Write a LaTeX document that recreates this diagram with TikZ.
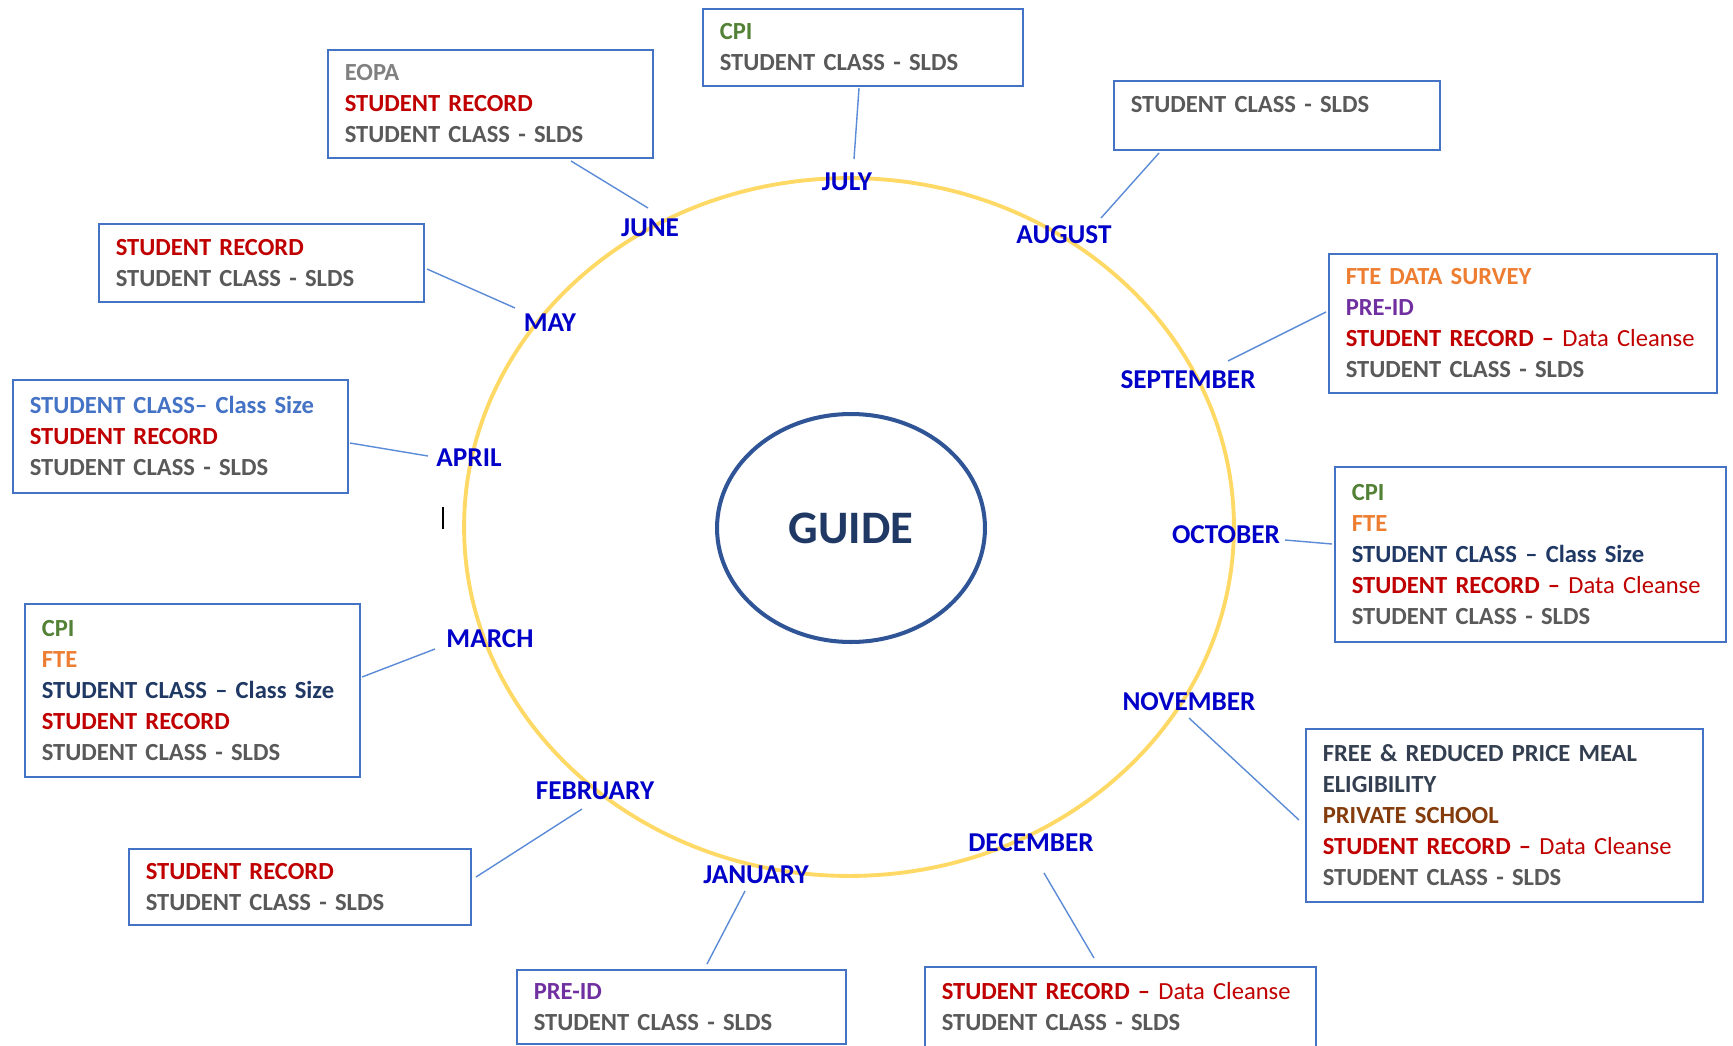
\documentclass[tikz,border=0pt]{standalone}
\usepackage{fontspec}
\setmainfont{Carlito}
\usetikzlibrary{shapes.geometric}
\definecolor{boxblue}{HTML}{4472C4}
\definecolor{linkblue}{HTML}{5B8BD6}
\definecolor{ringyellow}{HTML}{FFD966}
\definecolor{monthblue}{HTML}{0000C8}
\definecolor{guideline}{HTML}{2F5597}
\definecolor{guidetext}{HTML}{1F3864}
\definecolor{cpigreen}{HTML}{538135}
\definecolor{fteorange}{HTML}{ED7D31}
\definecolor{preidpurple}{HTML}{7030A0}
\definecolor{recred}{HTML}{C00000}
\definecolor{sldsgray}{HTML}{595959}
\definecolor{eopagray}{HTML}{808080}
\definecolor{navy}{HTML}{1F3864}
\definecolor{lightblue}{HTML}{4472C4}
\definecolor{slate}{HTML}{333F50}
\definecolor{brown}{HTML}{843C0C}
\newcommand{\cpi}{\textcolor{cpigreen}{CPI}}
\newcommand{\fte}{\textcolor{fteorange}{FTE}}
\newcommand{\preid}{\textcolor{preidpurple}{PRE-ID}}
\newcommand{\srec}{\textcolor{recred}{STUDENT RECORD}}
\newcommand{\srecdc}{\textcolor{recred}{STUDENT RECORD -- \mdseries Data Cleanse}}
\newcommand{\slds}{\textcolor{sldsgray}{STUDENT CLASS - SLDS}}
\newcommand{\csize}{\textcolor{navy}{STUDENT CLASS -- Class Size}}
\begin{document}
\begin{tikzpicture}[x=0.02cm,y=-0.02cm,
  infobox/.style={draw=boxblue, line width=0.9pt, rectangle, anchor=north west,
    inner xsep=9.4pt, inner ysep=0pt, align=left,
    font=\fontsize{14}{17.6}\selectfont\bfseries},
  month/.style={text=monthblue, font=\fontsize{15.5}{18}\selectfont\bfseries, inner sep=0pt},
  link/.style={draw=linkblue, line width=0.8pt}]
\useasboundingbox (0,0) rectangle (1733,1045);
% ring
\draw[ringyellow, line width=2.2pt] (849,527) ellipse [x radius=7.7cm, y radius=6.98cm];
% centre
\node[ellipse, draw=guideline, line width=2.3pt, minimum width=5.36cm, minimum height=4.56cm,
  text=guidetext, font=\fontsize{26.5}{30}\selectfont\bfseries] (guide) at (851,528) {GUIDE};
% boxes
\node[infobox, minimum width=6.5cm, minimum height=2.16cm, text width=5.82cm] (bjun) at (327,49)
  {\textcolor{eopagray}{EOPA}\\ \srec\\ \slds};
\node[infobox, minimum width=6.4cm, minimum height=1.54cm, text width=5.72cm] (bjul) at (702,8)
  {\cpi\\ \slds};
\node[infobox, minimum width=6.52cm, minimum height=1.38cm, text width=5.84cm] (baug) at (1113,80)
  {\slds\\[-5pt] \phantom{X}};
\node[infobox, minimum width=7.76cm, minimum height=2.78cm, text width=7.08cm] (bsep) at (1328,253)
  {\textcolor{fteorange}{FTE DATA SURVEY}\\ \preid\\ \srecdc\\ \slds};
\node[infobox, minimum width=7.82cm, minimum height=3.5cm, text width=7.14cm] (boct) at (1334,466)
  {\cpi\\ \fte\\ \csize\\ \srecdc\\ \slds};
\node[infobox, minimum width=7.94cm, minimum height=3.46cm, text width=7.26cm] (bnov) at (1305,728)
  {\textcolor{slate}{FREE \& REDUCED PRICE MEAL}\\ \textcolor{slate}{ELIGIBILITY}\\ \textcolor{brown}{PRIVATE SCHOOL}\\ \srecdc\\ \slds};
\node[infobox, minimum width=7.82cm, minimum height=1.6cm, text width=7.14cm] (bdec) at (924,966)
  {\srecdc\\ \slds};
\node[infobox, minimum width=6.58cm, minimum height=1.48cm, text width=5.9cm] (bjan) at (516,969)
  {\preid\\ \slds};
\node[infobox, minimum width=6.84cm, minimum height=1.52cm, text width=6.16cm] (bfeb) at (128,848)
  {\srec\\ \slds};
\node[infobox, minimum width=6.7cm, minimum height=3.46cm, text width=6.02cm] (bmar) at (24,603)
  {\cpi\\ \fte\\ \csize\\ \srec\\ \slds};
\node[infobox, minimum width=6.7cm, minimum height=2.26cm, text width=6.02cm] (bapr) at (12,379)
  {\textcolor{lightblue}{STUDENT CLASS-- Class Size}\\ \srec\\ \slds};
\node[infobox, minimum width=6.5cm, minimum height=1.56cm, text width=5.82cm] (bmay) at (98,223)
  {\srec\\ \slds};
% months
\node[month] (mjul) at (847,182) {JULY};
\node[month] (mjun) at (650,228) {JUNE};
\node[month] (maug) at (1064,235) {AUGUST};
\node[month] (mmay) at (550,323) {MAY};
\node[month] (msep) at (1188,380) {SEPTEMBER};
\node[month] (mapr) at (469,458) {APRIL};
\node[month] (moct) at (1226,535) {OCTOBER};
\node[month] (mmar) at (490,639) {MARCH};
\node[month] (mnov) at (1189,702) {NOVEMBER};
\node[month] (mfeb) at (595,791) {FEBRUARY};
\node[month] (mdec) at (1031,843) {DECEMBER};
\node[month] (mjan) at (756,875) {JANUARY};
% connector end points
\coordinate (jun1) at (571,161); \coordinate (jun2) at (648,208);
\coordinate (jul1) at (859,88);  \coordinate (jul2) at (854,159);
\coordinate (aug1) at (1159,153); \coordinate (aug2) at (1101,218);
\coordinate (may1) at (427,269); \coordinate (may2) at (515,308);
\coordinate (sep1) at (1326,312); \coordinate (sep2) at (1228,361);
\coordinate (apr1) at (350,443); \coordinate (apr2) at (428,456);
\coordinate (oct1) at (1285,540); \coordinate (oct2) at (1332,544);
\coordinate (mar1) at (362,677); \coordinate (mar2) at (435,649);
\coordinate (nov1) at (1189,718); \coordinate (nov2) at (1299,820);
\coordinate (feb1) at (476,877); \coordinate (feb2) at (582,809);
\coordinate (dec1) at (1044,873); \coordinate (dec2) at (1094,958);
\coordinate (jan1) at (745,891); \coordinate (jan2) at (707,964);
\draw[link] (jun1) -- (jun2);
\draw[link] (jul1) -- (jul2);
\draw[link] (aug1) -- (aug2);
\draw[link] (may1) -- (may2);
\draw[link] (sep1) -- (sep2);
\draw[link] (apr1) -- (apr2);
\draw[link] (oct1) -- (oct2);
\draw[link] (mar1) -- (mar2);
\draw[link] (nov1) -- (nov2);
\draw[link] (feb1) -- (feb2);
\draw[link] (dec1) -- (dec2);
\draw[link] (jan1) -- (jan2);
% text cursor
\coordinate (cur1) at (443,507); \coordinate (cur2) at (443,529);
\draw[black, line width=0.7pt] (cur1) -- (cur2);
\end{tikzpicture}
\end{document}
